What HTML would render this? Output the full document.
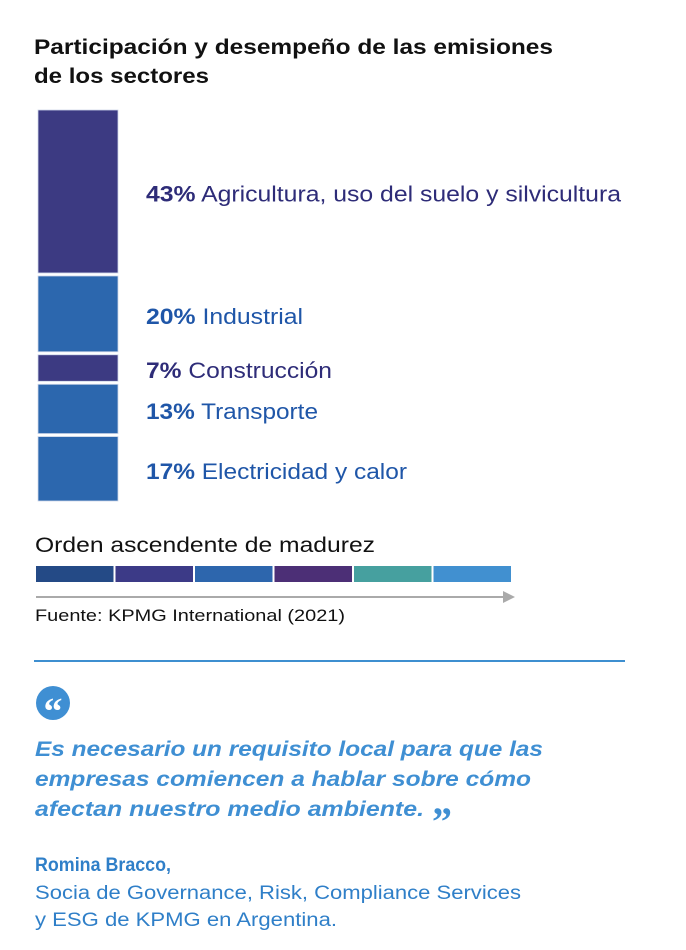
<!DOCTYPE html>
<html><head><meta charset="utf-8"><style>
body{margin:0;background:#fff;width:686px;height:950px;overflow:hidden}
svg{display:block;font-family:"Liberation Sans",Arial,sans-serif}
</style></head><body>
<svg id="c" width="686" height="950" viewBox="0 0 686 950">
<text x="34" y="54" font-size="21" font-weight="bold" fill="#111" textLength="519" lengthAdjust="spacingAndGlyphs">Participación y desempeño de las emisiones</text>
<text x="34" y="83" font-size="21" font-weight="bold" fill="#111" textLength="175" lengthAdjust="spacingAndGlyphs">de los sectores</text>
<g id="bars"></g>
<g id="labels"></g>
<text x="35" y="552" font-size="21" fill="#111" textLength="340" lengthAdjust="spacingAndGlyphs">Orden ascendente de madurez</text>
<g id="scale"></g>
<line x1="36" y1="597" x2="505" y2="597" stroke="#aaa" stroke-width="2"/>
<polygon points="503,591 515,597 503,603" fill="#aaa"/>
<text x="35" y="621" font-size="17" fill="#111" textLength="310" lengthAdjust="spacingAndGlyphs">Fuente: KPMG International (2021)</text>
<line x1="34" y1="661" x2="625" y2="661" stroke="#3E8FD0" stroke-width="2"/>
<circle cx="53" cy="703" r="17" fill="#3F8FD3"/>
<text x="53" y="724" font-size="38" font-weight="bold" font-family="Liberation Serif,serif" fill="#fff" text-anchor="middle">“</text>
<g font-size="21" font-weight="bold" font-style="italic" fill="#3F8FD3">
<text x="35" y="756" textLength="508" lengthAdjust="spacingAndGlyphs">Es necesario un requisito local para que las</text>
<text x="35" y="786" textLength="496" lengthAdjust="spacingAndGlyphs">empresas comiencen a hablar sobre cómo</text>
<text x="35" y="816" textLength="389" lengthAdjust="spacingAndGlyphs">afectan nuestro medio ambiente.</text>
<text x="432" y="835" font-size="40" font-family="Liberation Serif,serif" font-style="normal">”</text>
</g>
<text x="35" y="871" font-size="19" font-weight="bold" fill="#2F7FC8" textLength="136" lengthAdjust="spacingAndGlyphs">Romina Bracco,</text>
<text x="35" y="899" font-size="19" fill="#2F7FC8" textLength="486" lengthAdjust="spacingAndGlyphs">Socia de Governance, Risk, Compliance Services</text>
<text x="35" y="926" font-size="19" fill="#2F7FC8" textLength="302" lengthAdjust="spacingAndGlyphs">y ESG de KPMG en Argentina.</text>
</svg>
<script>
const sectors=["Agricultura, uso del suelo y silvicultura","Industrial","Construcción","Transporte","Electricidad y calor"];
const shares=[43,20,7,13,17];
const segColors=["#3C3A82","#2C67AE","#3C3A82","#2C67AE","#2C67AE"];
const labelColors=["#2E2C78","#1F56A8","#2E2C78","#1F56A8","#1F56A8"];
const labelWidths=[475,157,186,172,261];
const maturityColors=["#244A86","#3C3A87","#2D66AD","#4C2F76","#46A09F","#4190D0"];
const NS="http://www.w3.org/2000/svg";
const barTop=110,barBottom=501,gap=3,barX=38,barW=80;
const total=shares.reduce((a,b)=>a+b,0);
const scaleY=(barBottom-barTop-gap*(shares.length-1))/total;
const bars=document.getElementById('bars'),labels=document.getElementById('labels');
let y=barTop;
shares.forEach((v,i)=>{
 const h=v*scaleY;
 const r=document.createElementNS(NS,'rect');
 r.setAttribute('x',barX);r.setAttribute('y',y);r.setAttribute('width',barW);r.setAttribute('height',h);
 r.setAttribute('fill',segColors[i]);r.setAttribute('stroke','#cfd8ea');r.setAttribute('stroke-width','0.8');
 
 
 bars.appendChild(r);
 const t=document.createElementNS(NS,'text');
 t.setAttribute('x',146);t.setAttribute('y',y+h/2+10);t.setAttribute('font-size','22');t.setAttribute('fill',labelColors[i]);
 t.setAttribute('textLength',labelWidths[i]);t.setAttribute('lengthAdjust','spacingAndGlyphs');
 
 
 const b=document.createElementNS(NS,'tspan');b.setAttribute('font-weight','bold');b.textContent=v+'%';
 t.appendChild(b);t.appendChild(document.createTextNode(' '+sectors[i]));
 labels.appendChild(t);
 y+=h+gap;
});
const sc=document.getElementById('scale');
const sx=36,sw=477,n=maturityColors.length;
maturityColors.forEach((c,i)=>{
 const r=document.createElementNS(NS,'rect');
 r.setAttribute('x',sx+i*sw/n);r.setAttribute('y',566);r.setAttribute('width',sw/n-2);r.setAttribute('height',16);r.setAttribute('fill',c);
 
 
 sc.appendChild(r);
});
</script>
</body></html>
